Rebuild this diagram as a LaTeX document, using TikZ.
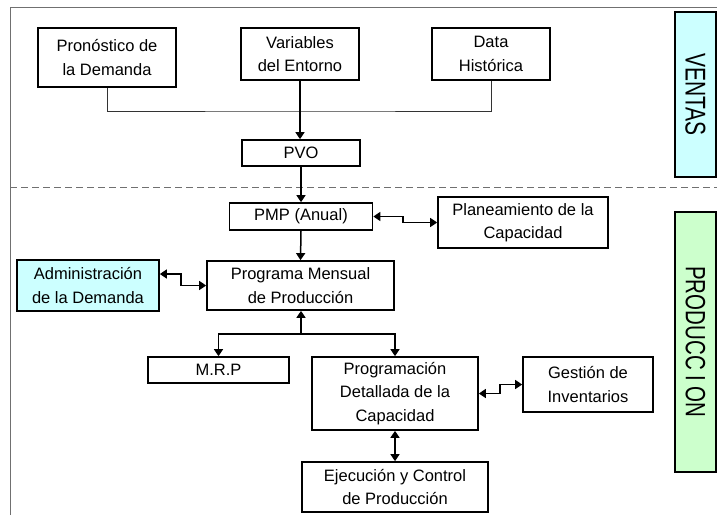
\documentclass[tikz,border=0pt]{standalone}
\usepackage{fontspec}
\setmainfont{Liberation Sans}
\usetikzlibrary{arrows.meta}
\definecolor{cyanfill}{HTML}{CCFFFF}
\definecolor{greenfill}{HTML}{CCFFCC}
\definecolor{framegray}{HTML}{707070}
\tikzset{
  box/.style={draw=black, line width=1.7pt, fill=white, align=center, inner sep=2pt,
    font=\fontsize{16.5}{23.5}\selectfont},
  side/.style={draw=black, line width=1.7pt, rotate=-90, inner sep=0pt},
  conn/.style={line width=1.5pt, draw=black},
  tip/.style={-{Triangle[length=7pt,width=9pt]}},
  tips/.style={{Triangle[length=7pt,width=9pt]}-{Triangle[length=7pt,width=9pt]}},
}
\begin{document}
\begin{tikzpicture}[x=1pt,y=-1pt]
\useasboundingbox (0,0) rectangle (717,515);
% frame
\draw[framegray, line width=1pt] (10,515) -- (10,7) -- (717,7);
\draw[framegray, line width=1pt, dash pattern=on 7pt off 4pt] (10,187) -- (717,187);
% side boxes
\node[side, fill=cyanfill, minimum width=165pt, minimum height=41pt] (ventas) at (695.5,94.5)
  {\scalebox{1}[1.36]{\fontsize{21}{24}\selectfont VENTAS}};
\node[side, fill=greenfill, minimum width=260pt, minimum height=41pt] (produccion) at (695.5,342)
  {\scalebox{1}[1.36]{\fontsize{20.5}{24}\selectfont PRODUCC I ON}};
% boxes
\node[box, minimum width=138pt, minimum height=59pt] (pron) at (107,57.5) {Pronóstico de\\la Demanda};
\node[box, minimum width=118pt, minimum height=52pt] (vari) at (300,54) {Variables\\del Entorno};
\node[box, minimum width=118pt, minimum height=52pt] (data) at (491,54) {Data\\Histórica};
\node[box, minimum width=118pt, minimum height=26pt] (pvo) at (301,153) {PVO};
\node[box, minimum width=143pt, minimum height=27pt] (pmp) at (301,216.5) {PMP (Anual)};
\node[box, minimum width=170pt, minimum height=51pt] (plan) at (523,222.5) {Planeamiento de la\\Capacidad};
\node[box, minimum width=187pt, minimum height=49pt] (prog) at (300.5,285.5) {Programa Mensual\\de Producción};
\node[box, fill=cyanfill, minimum width=142pt, minimum height=51pt] (admin) at (88,285.5) {Administración\\de la Demanda};
\node[box, minimum width=141pt, minimum height=26pt] (mrp) at (218.5,370) {M.R.P};
\node[box, minimum width=166pt, minimum height=73pt] (pdc) at (395,393.5) {Programación\\Detallada de la\\Capacidad};
\node[box, minimum width=130pt, minimum height=55pt] (gest) at (588,384.5) {Gestión de\\Inventarios};
\node[box, minimum width=186pt, minimum height=50pt] (ejec) at (395,487) {Ejecución y Control\\de Producción};
% junction coordinates
\coordinate (jn) at (301,111);
\coordinate (jog1) at (403,219.5);
\coordinate (jog2) at (181,280);
\coordinate (split) at (301,334);
\coordinate (jog3) at (500,389);
% connectors
\draw[line width=1pt, draw=black!80] (pron.south) |- (jn) -| (data.south);
\draw[conn, tip] (vari.south) -- (vari.south |- pvo.north);
\draw[conn, tip] (pvo.south) -- (pvo.south |- pmp.north);
\draw[conn, tips] (pmp.east) -| (jog1) |- (plan.west);
\draw[conn, tip] (pmp.south) -- (prog.north);
\draw[conn, tips] ([yshift=11.5pt]admin.east) -| (jog2) |- (prog.west);
\draw[conn, tip] (split) -- (split |- prog.south);
\draw[conn, tip] (split) -| (mrp.north);
\draw[conn, tip] (split) -| (pdc.north);
\draw[conn, tips] (pdc.east) -| (jog3) |- (gest.west);
\draw[conn, tips] (pdc.south) -- (pdc.south |- ejec.north);
\end{tikzpicture}
\end{document}
